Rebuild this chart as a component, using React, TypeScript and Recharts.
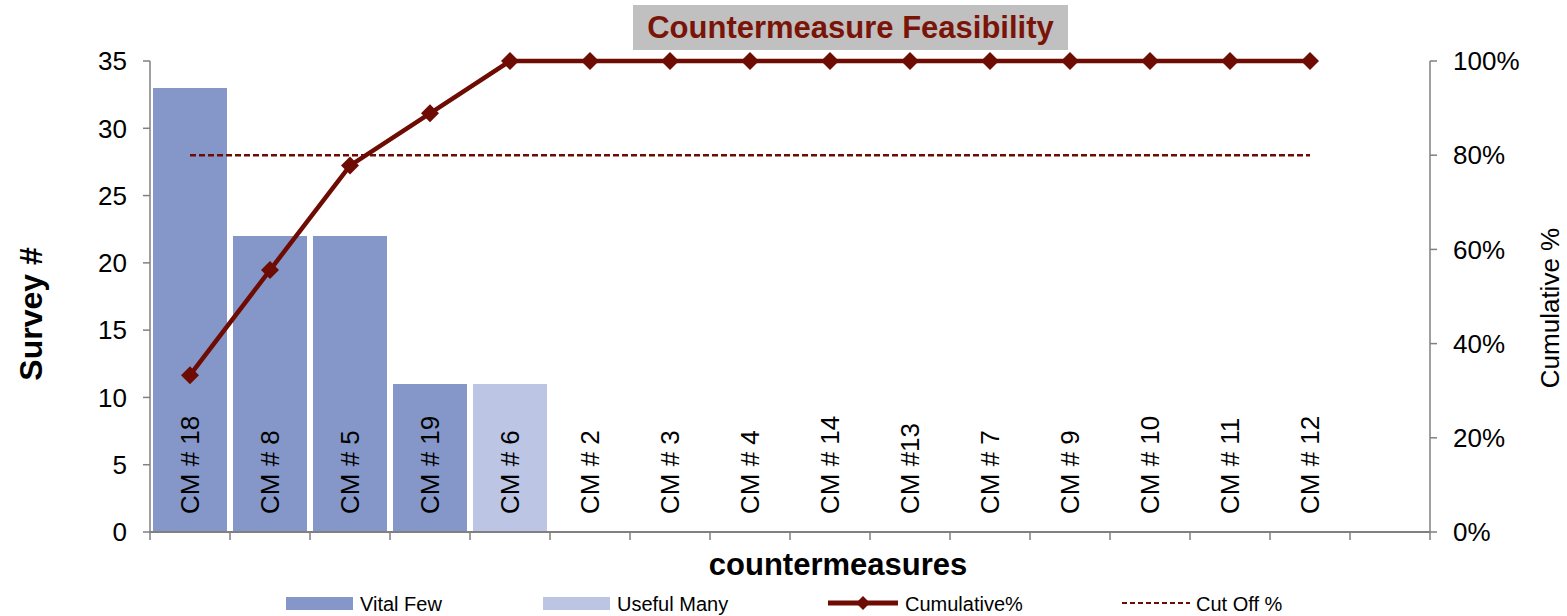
import React from 'react'
import { ComposedChart, Bar, Line, XAxis, YAxis } from 'recharts'

// Pareto data
const categories = ['CM # 18', 'CM # 8', 'CM # 5', 'CM # 19', 'CM # 6', 'CM # 2', 'CM # 3', 'CM # 4', 'CM # 14', 'CM #13', 'CM # 7', 'CM # 9', 'CM # 10', 'CM # 11', 'CM # 12', '']
const vitalFew = [33, 22, 22, 11, 0, 0, 0, 0, 0, 0, 0, 0, 0, 0, 0, 0]
const usefulMany = [0, 0, 0, 0, 11, 0, 0, 0, 0, 0, 0, 0, 0, 0, 0, 0]
const cumulative: (number | null)[] = [33.3, 55.6, 77.8, 88.9, 100, 100, 100, 100, 100, 100, 100, 100, 100, 100, 100, null]
const cutOff: (number | null)[] = [80, 80, 80, 80, 80, 80, 80, 80, 80, 80, 80, 80, 80, 80, 80, null]
const countTicks = [0, 5, 10, 15, 20, 25, 30, 35]
const pctTicks = [0, 20, 40, 60, 80, 100]

const FONT = '"Liberation Sans", Arial, sans-serif'
const VITAL = '#8497c8'
const USEFUL = '#bcc5e3'
const MAROON = '#6e0c04'
const AXIS = '#808080'

const data = categories.map((name, i) => ({
  name,
  vital: vitalFew[i],
  useful: usefulMany[i],
  cum: cumulative[i],
  cut: cutOff[i]
}))

function CategoryTick(props: any) {
  const { x, y, payload, index } = props
  const half = payload && payload.offset ? payload.offset : 40
  const last = index === categories.length - 1
  return (
    <g>
      <line x1={x - half} y1={y} x2={x - half} y2={y + 8} stroke={AXIS} strokeWidth={1.5} />
      {last && <line x1={x + half} y1={y} x2={x + half} y2={y + 8} stroke={AXIS} strokeWidth={1.5} />}
      <text
        x={x}
        y={y - 18}
        transform={`rotate(-90 ${x} ${y - 18})`}
        textAnchor="start"
        dominantBaseline="central"
        fontSize={26}
        fontFamily={FONT}
        fill="#000"
      >
        {payload.value}
      </text>
    </g>
  )
}

function Diamond(props: any) {
  const { cx, cy, value } = props
  if (value == null || cx == null || cy == null) return <g />
  return <polygon points={`${cx},${cy - 9} ${cx + 9},${cy} ${cx},${cy + 9} ${cx - 9},${cy}`} fill={MAROON} />
}

export default function App() {
  return (
    <div style={{ position: 'absolute', left: 0, top: 0, width: 1567, height: 616, background: '#fff', fontFamily: FONT }}>
      <ComposedChart width={1567} height={616} data={data} margin={{ top: 61, right: 0, bottom: 0, left: 0 }} barCategoryGap={3}>
        <XAxis
          dataKey="name"
          xAxisId="cat"
          interval={0}
          height={84}
          stroke={AXIS}
          strokeWidth={2}
          tickLine={false}
          tickSize={0}
          tickMargin={0}
          tick={<CategoryTick />}
        />
        <YAxis
          yAxisId="count"
          width={150}
          domain={[0, 35]}
          ticks={countTicks}
          interval={0}
          stroke={AXIS}
          strokeWidth={1.5}
          tickSize={7}
          tickMargin={16}
          tick={{ fill: '#000', fontSize: 26, fontFamily: FONT }}
        />
        <YAxis
          yAxisId="pct"
          orientation="right"
          width={137}
          domain={[0, 100]}
          ticks={pctTicks}
          interval={0}
          tickFormatter={(v: number) => `${v}%`}
          stroke={AXIS}
          strokeWidth={1.5}
          tickSize={7}
          tickMargin={16}
          tick={{ fill: '#000', fontSize: 26, fontFamily: FONT }}
        />
        <Bar dataKey="vital" xAxisId="cat" yAxisId="count" stackId="s" fill={VITAL} isAnimationActive={false} />
        <Bar dataKey="useful" xAxisId="cat" yAxisId="count" stackId="s" fill={USEFUL} isAnimationActive={false} />
        <Line
          dataKey="cut"
          xAxisId="cat"
          yAxisId="pct"
          type="linear"
          stroke={MAROON}
          strokeWidth={2.5}
          strokeDasharray="6 3"
          dot={false}
          activeDot={false}
          isAnimationActive={false}
        />
        <Line
          dataKey="cum"
          xAxisId="cat"
          yAxisId="pct"
          type="linear"
          stroke={MAROON}
          strokeWidth={4.5}
          dot={<Diamond />}
          activeDot={false}
          isAnimationActive={false}
        />
      </ComposedChart>

      <div
        style={{
          position: 'absolute',
          left: 633,
          top: 5,
          width: 435,
          height: 45,
          background: '#c0c0c0',
          color: '#7a1408',
          fontWeight: 'bold',
          fontSize: 31,
          lineHeight: '45px',
          textAlign: 'center',
          whiteSpace: 'nowrap'
        }}
      >
        Countermeasure Feasibility
      </div>

      <svg width={1567} height={616} style={{ position: 'absolute', left: 0, top: 0, pointerEvents: 'none' }}>
        <text x={31} y={314} transform="rotate(-90 31 314)" textAnchor="middle" dominantBaseline="central" fontSize={32} fontWeight="bold" fontFamily={FONT}>
          Survey #
        </text>
        <text x={1550} y={308} transform="rotate(-90 1550 308)" textAnchor="middle" dominantBaseline="central" fontSize={26} fontFamily={FONT}>
          Cumulative %
        </text>
        <text x={838} y={564} textAnchor="middle" dominantBaseline="central" fontSize={31} fontWeight="bold" fontFamily={FONT}>
          countermeasures
        </text>

        <rect x={286} y={597} width={67} height={13} fill={VITAL} />
        <text x={360} y={604} dominantBaseline="central" fontSize={20} fontFamily={FONT}>Vital Few</text>
        <rect x={543} y={597} width={67} height={13} fill={USEFUL} />
        <text x={617} y={604} dominantBaseline="central" fontSize={20} fontFamily={FONT}>Useful Many</text>
        <line x1={828} y1={603} x2={898} y2={603} stroke={MAROON} strokeWidth={5} />
        <polygon points="863,596 870,603 863,610 856,603" fill={MAROON} />
        <text x={905} y={604} dominantBaseline="central" fontSize={20} fontFamily={FONT}>Cumulative%</text>
        <line x1={1122} y1={603} x2={1190} y2={603} stroke={MAROON} strokeWidth={2} strokeDasharray="5 3" />
        <text x={1196} y={604} dominantBaseline="central" fontSize={20} fontFamily={FONT}>Cut Off %</text>
      </svg>
    </div>
  )
}
